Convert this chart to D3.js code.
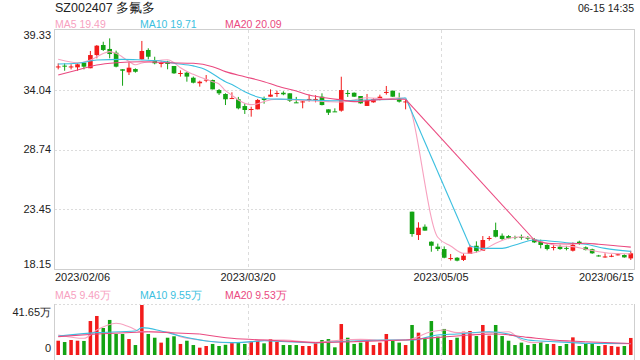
<!DOCTYPE html>
<html><head><meta charset="utf-8">
<script src="https://cdn.jsdelivr.net/npm/d3@7"></script>
<style>
html,body{margin:0;padding:0;background:#fff;}
svg{display:block;font-family:"Liberation Sans",Arial,sans-serif;}
</style></head>
<body><svg id="c" width="640" height="360"></svg>
<script>
const title = "SZ002407 多氟多";
const timeLabel = "06-15 14:35";
const dates = [
"2023/02/06","2023/02/07","2023/02/08","2023/02/09","2023/02/10","2023/02/13","2023/02/14","2023/02/15","2023/02/16","2023/02/17",
"2023/02/20","2023/02/21","2023/02/22","2023/02/23","2023/02/24","2023/02/27","2023/02/28",
"2023/03/01","2023/03/02","2023/03/03","2023/03/06","2023/03/07","2023/03/08","2023/03/09","2023/03/10","2023/03/13","2023/03/14",
"2023/03/15","2023/03/16","2023/03/17","2023/03/20","2023/03/21","2023/03/22","2023/03/23","2023/03/24","2023/03/27","2023/03/28",
"2023/03/29","2023/03/30","2023/03/31",
"2023/04/03","2023/04/04","2023/04/06","2023/04/07","2023/04/10","2023/04/11","2023/04/12","2023/04/13","2023/04/14","2023/04/17",
"2023/04/18","2023/04/19","2023/04/20","2023/04/21","2023/04/24","2023/04/25","2023/04/26","2023/04/27","2023/04/28",
"2023/05/04","2023/05/05","2023/05/08","2023/05/09","2023/05/10","2023/05/11","2023/05/12","2023/05/15","2023/05/16","2023/05/17",
"2023/05/18","2023/05/19","2023/05/22","2023/05/23","2023/05/24","2023/05/25","2023/05/26","2023/05/29","2023/05/30","2023/05/31",
"2023/06/01","2023/06/02","2023/06/05","2023/06/06","2023/06/07","2023/06/08","2023/06/09","2023/06/12","2023/06/13","2023/06/14","2023/06/15"];
const open  = [36.06,36.17,36.06,36.02,36.44,35.94,37.11,38.00,37.65,37.32, 35.85,35.58,35.87,36.73,37.56,36.67,36.35,36.52,36.14,35.46,
 35.55,35.10,34.61,34.87,34.90,34.01,33.66,33.25,33.19,32.59, 32.27,32.30,33.28,33.42,33.70,33.77,33.72,32.92,32.95,33.17,
 33.17,33.42,32.30,32.12,32.18,33.75,33.77,33.48,32.60,32.92, 33.13,33.78,33.95,33.19,32.95,23.23,21.16,21.90,20.57,20.13,
 19.92,19.06,19.15,18.95,19.48,20.21,19.77,20.84,21.60,21.10, 21.07,20.98,21.00,20.92,20.81,20.57,20.28,20.04,20.13,20.02,
 19.77,20.57,20.07,19.90,19.35,19.21,19.27,19.40,19.39,19.09];
const close = [36.10,36.08,36.10,36.29,36.08,37.11,37.94,37.56,37.20,36.08, 35.72,35.99,35.63,37.47,36.96,36.38,36.41,36.32,35.49,35.52,
 35.20,34.66,34.75,34.93,34.07,33.72,33.19,33.30,32.39,32.24, 32.33,33.13,33.13,33.60,33.75,33.63,33.06,32.87,33.00,33.22,
 33.22,32.68,32.00,32.07,34.01,33.70,33.42,32.83,33.13,33.19, 33.42,33.84,33.42,32.98,33.00,21.25,21.81,21.55,20.21,19.92,
 19.15,19.12,18.89,19.33,20.07,19.74,20.72,20.90,21.01,20.81, 20.87,20.92,20.95,20.87,20.51,20.28,19.92,20.10,19.92,19.97,
 20.28,20.37,19.83,19.54,19.30,19.26,19.32,19.45,19.18,19.54];
const high  = [36.37,36.37,36.30,36.37,36.44,37.47,38.00,38.29,38.59,37.50, 35.85,36.47,35.93,38.36,37.71,36.96,36.55,36.60,36.14,35.75,
 35.64,35.20,34.84,35.34,34.93,34.10,33.72,33.81,33.40,32.83, 32.53,33.22,33.43,34.07,33.95,33.90,33.72,33.40,33.05,33.60,
 33.55,33.72,32.30,32.39,35.19,34.00,33.80,33.48,33.66,33.30, 33.60,34.37,33.95,33.77,33.20,23.23,22.29,22.10,20.60,20.40,
 20.15,19.48,19.20,19.54,20.30,20.60,21.07,21.07,22.26,21.30, 21.15,21.10,21.20,21.07,20.90,20.75,20.35,20.30,20.30,20.20,
 20.50,20.66,20.15,19.95,19.40,19.54,19.45,19.55,19.45,19.77];
const low   = [35.84,35.72,35.84,35.72,35.84,35.94,36.82,37.47,36.82,36.02, 34.39,35.34,35.55,36.70,36.73,36.29,36.02,35.85,35.45,35.20,
 34.75,34.60,34.31,34.70,34.07,33.57,32.68,33.25,32.30,31.89, 31.65,32.30,32.80,33.42,33.40,33.55,32.95,32.87,32.39,32.98,
 32.92,32.65,31.80,32.07,32.09,33.40,33.40,32.80,32.60,32.89, 33.10,33.60,33.40,32.90,32.30,21.01,20.72,21.55,19.68,19.74,
 19.10,18.90,18.83,18.86,19.48,19.60,19.77,20.66,20.95,20.72, 20.80,20.78,20.75,20.70,20.45,19.98,19.80,19.80,19.85,19.80,
 19.70,20.30,19.80,19.50,19.25,19.15,19.20,19.35,19.15,18.95];
// volume in 万 shares
const volume = [11.9,10.8,12.5,11.9,11.7,28.3,32.5,22.5,29.2,17.5, 17.5,13.3,8.3,41.65,17.5,14.4,10.3,14.4,15.6,9.2,
 11.9,8.3,6.1,7.5,9.2,7.5,8.5,10.0,10.5,9.2, 11.7,11.7,9.7,13.3,11.0,8.3,8.3,8.3,7.5,7.5,
 9.7,12.5,13.3,6.4,25.8,14.4,9.2,10.3,11.7,8.3, 10.3,17.5,11.7,10.3,8.3,25.0,18.6,13.3,28.3,15.3,
 21.7,12.5,14.4,19.4,20.0,15.8,25.0,16.1,25.0,15.8, 11.9,8.3,10.3,8.3,9.2,10.8,9.2,9.2,7.5,9.2,
 14.7,7.5,9.2,9.2,7.5,8.3,7.5,6.9,7.5,14.2];
// moving averages: [candle index, value]
const ma5 = [[0,36.73],[3,36.43],[5,36.67],[6,36.95],[7,37.25],[8,37.41],[9,37.26],[11,36.55],[12,36.25],[13,36.4],[15,36.6],[17,36.7],
 [18,36.43],[19,35.98],[21,35.4],[24,34.75],[25,34.55],[26,33.95],[27,33.55],[28,33.13],[30,32.72],[31,32.8],[32,33.0],[34,33.19],
 [37,33.13],[39,33.06],[42,32.98],[44,32.95],[46,33.13],[48,33.33],[51,33.21],[53,33.33],[54,33.19],
 [59,20.96],[61,20.19],[63,19.54],[64,19.54],[66,19.83],[68,20.43],[70,20.87],[72,21.01],[74,20.78],[76,20.43],[78,20.19],
 [80,20.13],[82,19.9],[84,19.68],[86,19.54],[89,19.49]];
const ma10 = [[0,36.32],[3,36.38],[6,36.67],[10,36.73],[13,36.67],[16,36.58],[18,36.38],[21,36.15],[23,35.79],[24,35.45],[26,34.75],
 [27,34.5],[29,33.86],[31,33.4],[33,33.22],[36,33.19],[39,33.13],[43,33.06],[48,33.13],[52,33.19],[54,33.33],
 [64,20.19],[66,19.98],[69,19.98],[71,20.28],[74,20.72],[76,20.66],[79,20.48],[82,20.34],[85,19.98],[89,19.71]];
const ma20 = [[0,35.34],[3,35.79],[6,36.23],[9,36.43],[13,36.52],[17,36.43],[21,36.38],[24,36.08],[26,35.64],[29,35.19],[32,34.75],
 [34,34.37],[37,33.92],[39,33.57],[42,33.28],[44,33.13],[46,32.98],[48,33.06],[51,33.19],[54,33.19],
 [74,20.72],[76,20.43],[79,20.37],[82,20.43],[84,20.34],[87,20.19],[89,20.09]];
const vma5 = [[0,16.7],[4,13.9],[6,20.8],[9,26.4],[11,23.6],[13,19.4],[15,19.4],[17,19.4],[19,15.3],[22,12.5],[24,11.1],[27,10.3],
 [30,11.1],[32,12.5],[35,12.5],[40,10.5],[44,12.5],[47,13.0],[51,12.5],[54,12.5],[58,19.4],[60,20.8],[62,18.6],[67,18.6],[70,19.4],
 [72,12.5],[74,10.3],[77,11.7],[82,9.7],[89,9.46]];
const vma10 = [[0,15.8],[6,18.6],[12,20.0],[13,22.8],[16,20.0],[19,15.8],[23,11.7],[27,10.3],[32,11.9],[40,10.0],[46,11.7],[51,12.5],
 [55,12.5],[59,16.7],[62,17.5],[67,19.4],[70,17.5],[73,12.5],[77,11.1],[82,9.7],[89,9.55]];
const vma20 = [[0,15.3],[6,17.5],[14,19.4],[22,17.5],[27,13.9],[32,12.5],[40,10.3],[46,11.1],[54,12.5],[59,14.7],[64,16.7],[68,17.5],
 [73,14.7],[77,12.5],[82,11.1],[89,9.53]];
const priceTicks = [39.33,34.04,28.74,23.45,18.15];
const volMax = 41.65;
const legendPrice = [["MA5","19.49"],["MA10","19.71"],["MA20","20.09"]];
const legendVol = [["MA5","9.46万"],["MA10","9.55万"],["MA20","9.53万"]];

const C = {up:"#f21b1b", down:"#13a313", ma5:"#f7a1bf", ma10:"#3bbfe0", ma20:"#ea4a80", grid:"#dcdcdc", border:"#cfcfcf", text:"#222"};
const L = 55, R = 634, PT = 30, PB = 269, VT = 305, VB = 355;
const svg = d3.select("#c");
const n = dates.length;
const x = d3.scaleBand().domain(d3.range(n)).range([L, R]);
const cx = i => x(i) + x.bandwidth()/2;
const y = d3.scaleLinear().domain([priceTicks[4], priceTicks[0]]).range([PB, PT]);
const yv = d3.scaleLinear().domain([0, volMax]).range([VB, VT]);

// title
svg.append("text").attr("x", 55).attr("y", 12).attr("font-size", 12.5).attr("fill", C.text).text(title);
svg.append("text").attr("x", 634).attr("y", 12).attr("text-anchor","end").attr("font-size", 10.5).attr("fill", C.text).text(timeLabel);

// legends
const legCols = [C.ma5, C.ma10, C.ma20];
const legX = [55, 140, 225];
legendPrice.forEach((d,k)=> svg.append("text").attr("x", legX[k]).attr("y", 28).attr("font-size", 10.5).attr("fill", legCols[k]).text(d[0]+" "+d[1]));
legendVol.forEach((d,k)=> svg.append("text").attr("x", legX[k]).attr("y", 299).attr("font-size", 10.5).attr("fill", legCols[k]).text(d[0]+" "+d[1]));

// grid price
const g = svg.append("g");
priceTicks.slice(1,4).forEach(t => g.append("line").attr("x1", L).attr("x2", R).attr("y1", Math.round(y(t))+0.5).attr("y2", Math.round(y(t))+0.5)
  .attr("stroke", C.grid).attr("stroke-dasharray","2,2"));
const vLines = [1/3, 2/3].map(f => L + (R-L)*f);
vLines.forEach(vx => {
  g.append("line").attr("x1", Math.round(vx)+0.5).attr("x2", Math.round(vx)+0.5).attr("y1", PT).attr("y2", PB).attr("stroke", C.grid).attr("stroke-dasharray","3,3");
  g.append("line").attr("x1", Math.round(vx)+0.5).attr("x2", Math.round(vx)+0.5).attr("y1", VT).attr("y2", 360).attr("stroke", C.grid).attr("stroke-dasharray","3,3");
});
g.append("rect").attr("x", L-0.5).attr("y", PT-0.5).attr("width", R-L+1).attr("height", PB-PT+1).attr("fill","none").attr("stroke", C.border);
g.append("line").attr("x1", L).attr("x2", R).attr("y1", VT-0.5).attr("y2", VT-0.5).attr("stroke", C.grid).attr("stroke-dasharray","2,2");
g.append("line").attr("x1", L-0.5).attr("x2", L-0.5).attr("y1", VT-1).attr("y2", 360).attr("stroke", C.border);
g.append("line").attr("x1", R+0.5).attr("x2", R+0.5).attr("y1", VT-1).attr("y2", 360).attr("stroke", C.border);

// y labels
priceTicks.forEach(t => {
  const yy = Math.max(PT+5, Math.min(PB-5, y(t)));
  svg.append("text").attr("x", 51).attr("y", yy).attr("dy","0.35em").attr("text-anchor","end").attr("font-size", 11).attr("fill", C.text).text(t.toFixed(2));
});
svg.append("text").attr("x", 51).attr("y", 312).attr("dy","0.35em").attr("text-anchor","end").attr("font-size", 11).attr("fill", C.text).text(volMax.toFixed(2)+"万");
svg.append("text").attr("x", 51).attr("y", 348).attr("dy","0.35em").attr("text-anchor","end").attr("font-size", 11).attr("fill", C.text).text("0");

// x labels
[0, 1/3, 2/3, 1].forEach((f,k) => {
  const idx = Math.min(n-1, Math.max(0, Math.round(f*n - 0.5)));
  const px = L + (R-L)*f;
  svg.append("text").attr("x", px).attr("y", 277).attr("dy","0.35em")
    .attr("text-anchor", k===0 ? "start" : (k===3 ? "end" : "middle"))
    .attr("font-size", 11).attr("fill", C.text).text(dates[idx]);
});

// candles
const bw = x.bandwidth()*0.72;
const cg = svg.append("g");
d3.range(n).forEach(i => {
  const up = close[i] >= open[i];
  const col = up ? C.up : C.down;
  cg.append("line").attr("x1", cx(i)).attr("x2", cx(i)).attr("y1", y(high[i])).attr("y2", y(low[i])).attr("stroke", col).attr("stroke-width", 1);
  const top = y(Math.max(open[i], close[i])), bot = y(Math.min(open[i], close[i]));
  cg.append("rect").attr("x", cx(i)-bw/2).attr("y", top).attr("width", bw).attr("height", Math.max(1, bot-top)).attr("fill", col);
  // volume bars
  cg.append("rect").attr("x", cx(i)-x.bandwidth()*0.275).attr("y", yv(volume[i])).attr("width", x.bandwidth()*0.55)
    .attr("height", VB - yv(volume[i])).attr("fill", col);
});

// MA lines: smooth runs, straight across data gaps
function drawMA(pts, sy, col) {
  const runs = [];
  let cur = [pts[0]];
  for (let k=1;k<pts.length;k++){
    if (pts[k][0]-pts[k-1][0] > 6) { runs.push(cur); svg.append("line")
        .attr("x1", cx(pts[k-1][0])).attr("y1", sy(pts[k-1][1])).attr("x2", cx(pts[k][0])).attr("y2", sy(pts[k][1]))
        .attr("stroke", col).attr("stroke-width", 1.1); cur = [pts[k]]; }
    else cur.push(pts[k]);
  }
  runs.push(cur);
  const line = d3.line().x(d=>cx(d[0])).y(d=>sy(d[1])).curve(d3.curveMonotoneX);
  runs.forEach(r => svg.append("path").attr("d", line(r)).attr("fill","none").attr("stroke", col).attr("stroke-width", 1.1));
}
drawMA(ma5, y, C.ma5); drawMA(ma10, y, C.ma10); drawMA(ma20, y, C.ma20);
drawMA(vma5, yv, C.ma5); drawMA(vma10, yv, C.ma10); drawMA(vma20, yv, C.ma20);
</script></body></html>
